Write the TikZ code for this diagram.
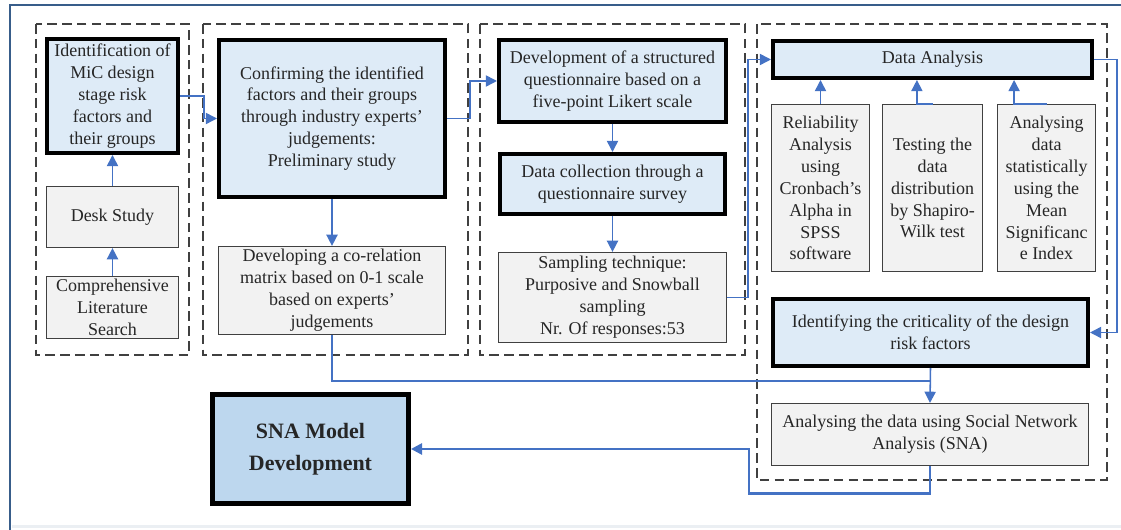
\documentclass[tikz,border=0pt]{standalone}
\usepackage{fontspec}
\setmainfont{Liberation Serif}
\usepackage{tikz}
\usetikzlibrary{arrows.meta,positioning,calc}
\definecolor{lblue}{HTML}{DEEBF7}
\definecolor{mblue}{HTML}{BDD7EE}
\definecolor{lgrey}{HTML}{F2F2F2}
\definecolor{cblue}{HTML}{4472C4}
\definecolor{fblue}{HTML}{385D8A}
\definecolor{dgrey}{HTML}{404040}
\tikzset{
  txt/.style={align=center,inner sep=2pt,text=black!85,font=\fontsize{12.8pt}{15.6pt}\selectfont},
  heavy/.style={txt,draw=black,fill=lblue,line width=2.85pt},
  plain/.style={txt,draw=dgrey,fill=lgrey,line width=0.85pt},
  grp/.style={draw=dgrey,line width=0.85pt,dash pattern=on 2.4mm off 1.3mm},
  line/.style={draw=cblue,line width=1.1pt},
  arr/.style={line,-{Triangle[length=2.8mm,width=2.8mm]}},
  barr/.style={arr,line width=1.8pt},
}
\begin{document}
\begin{tikzpicture}
  \useasboundingbox (0,0) rectangle (28.025,13.25);
  % frame
  \draw[fblue,line width=2.1pt] (28.025,13.125) -- (0.25,13.125) -- (0.25,0);
  \draw[fblue!10,line width=2pt] (0.3,0.08) -- (28.025,0.08);
  % groups
  \draw[grp] (0.9,12.65) rectangle (4.725,4.375);
  \draw[grp] (5.075,12.65) rectangle (11.7,4.375);
  \draw[grp] (12.0,12.65) rectangle (18.625,4.375);
  \draw[grp] (18.925,12.65) rectangle (27.675,1.25);
  % literature
  \node[heavy,minimum width=3.275cm,minimum height=2.85cm] (id) at (2.8125,10.85) {Identification of\\MiC design\\stage risk\\factors and\\their groups};
  \node[plain,minimum width=3.3cm,minimum height=1.525cm] (desk) at (2.8125,7.825) {Desk Study};
  \node[plain,minimum width=3.3cm,minimum height=1.55cm] (lit) at (2.8125,5.5625) {Comprehensive\\Literature\\Search};
  \draw[arr] (lit.north) -- (desk.south);
  \draw[arr] (desk.north) -- (id.south);
  % preliminary study
  \node[heavy,minimum width=5.65cm,minimum height=3.925cm] (conf) at (8.3,10.2875) {Confirming the identified\\factors and their groups\\through industry experts'\\judgements:\\Preliminary study};
  \node[plain,minimum width=5.675cm,minimum height=2.2cm] (corr) at (8.3,5.9875) {Developing a co-relation\\matrix based on 0-1 scale\\based on experts'\\judgements};
  \draw[arr] (conf.south) -- (corr.north);
  \draw[arr] (id.east) -- ++(0.6,0) |- (conf.west);
  % survey
  \node[heavy,minimum width=5.675cm,minimum height=2.05cm] (quest) at (15.3125,11.225) {Development of a structured\\questionnaire based on a\\five-point Likert scale};
  \node[heavy,minimum width=5.625cm,minimum height=1.5cm] (coll) at (15.3125,8.65) {Data collection through a\\questionnaire survey};
  \node[plain,minimum width=5.7cm,minimum height=2.25cm] (samp) at (15.3125,5.8125) {Sampling technique:\\Purposive and Snowball\\sampling\\Nr. Of responses:53};
  \draw[arr] (quest.south) -- (coll.north);
  \draw[arr] (coll.south) -- (samp.north);
  \draw[arr] (conf.east) -- ++(0.575,0) |- (quest.west);
  % analysis
  \node[heavy,minimum width=7.975cm,minimum height=0.925cm] (da) at (23.3125,11.7625) {Data Analysis};
  \node[plain,minimum width=2.45cm,minimum height=4.175cm] (rel) at (20.5125,8.55) {Reliability\\Analysis\\using\\Cronbach's\\Alpha in\\SPSS\\software};
  \node[plain,minimum width=2.5cm,minimum height=4.175cm] (tst) at (23.3125,8.55) {Testing the\\data\\distribution\\by Shapiro-\\Wilk test};
  \node[plain,minimum width=2.45cm,minimum height=4.175cm] (msi) at (26.1625,8.55) {Analysing\\data\\statistically\\using the\\Mean\\Significanc\\e Index};
  \draw[arr] (rel.north) -- (rel.north |- da.south);
  \draw[arr] (tst.north) -- ++(-0.39,0) coordinate (t2) -- (t2 |- da.south);
  \draw[arr] (msi.north) -- ++(-0.81,0) coordinate (t3) -- (t3 |- da.south);
  \draw[arr] (samp.east) -- ++(0.525,0) |- (da.west);
  \node[heavy,minimum width=7.875cm,minimum height=1.675cm] (crit) at (23.2625,4.9375) {Identifying the criticality of the design\\risk factors};
  \draw[arr] (da.east) -- ++(0.575,0) |- (crit.east);
  \node[plain,minimum width=7.925cm,minimum height=1.55cm] (sna) at (23.25,2.3875) {Analysing the data using Social Network\\Analysis (SNA)};
  \draw[arr] (crit.south) -- (sna.north);
  \draw[line] (corr.south) |- ($(crit.south)!0.37!(sna.north)$);
  % model
  \node[txt,draw=black,fill=mblue,line width=3.5pt,minimum width=4.9cm,minimum height=2.725cm,
        font=\fontsize{15.6pt}{22.8pt}\selectfont\bfseries] (model) at (7.7625,2.025) {SNA Model\\Development};
  \draw[barr] (sna.south) |- ++(-4.525,-0.6875) |- (model.east);
\end{tikzpicture}
\end{document}
